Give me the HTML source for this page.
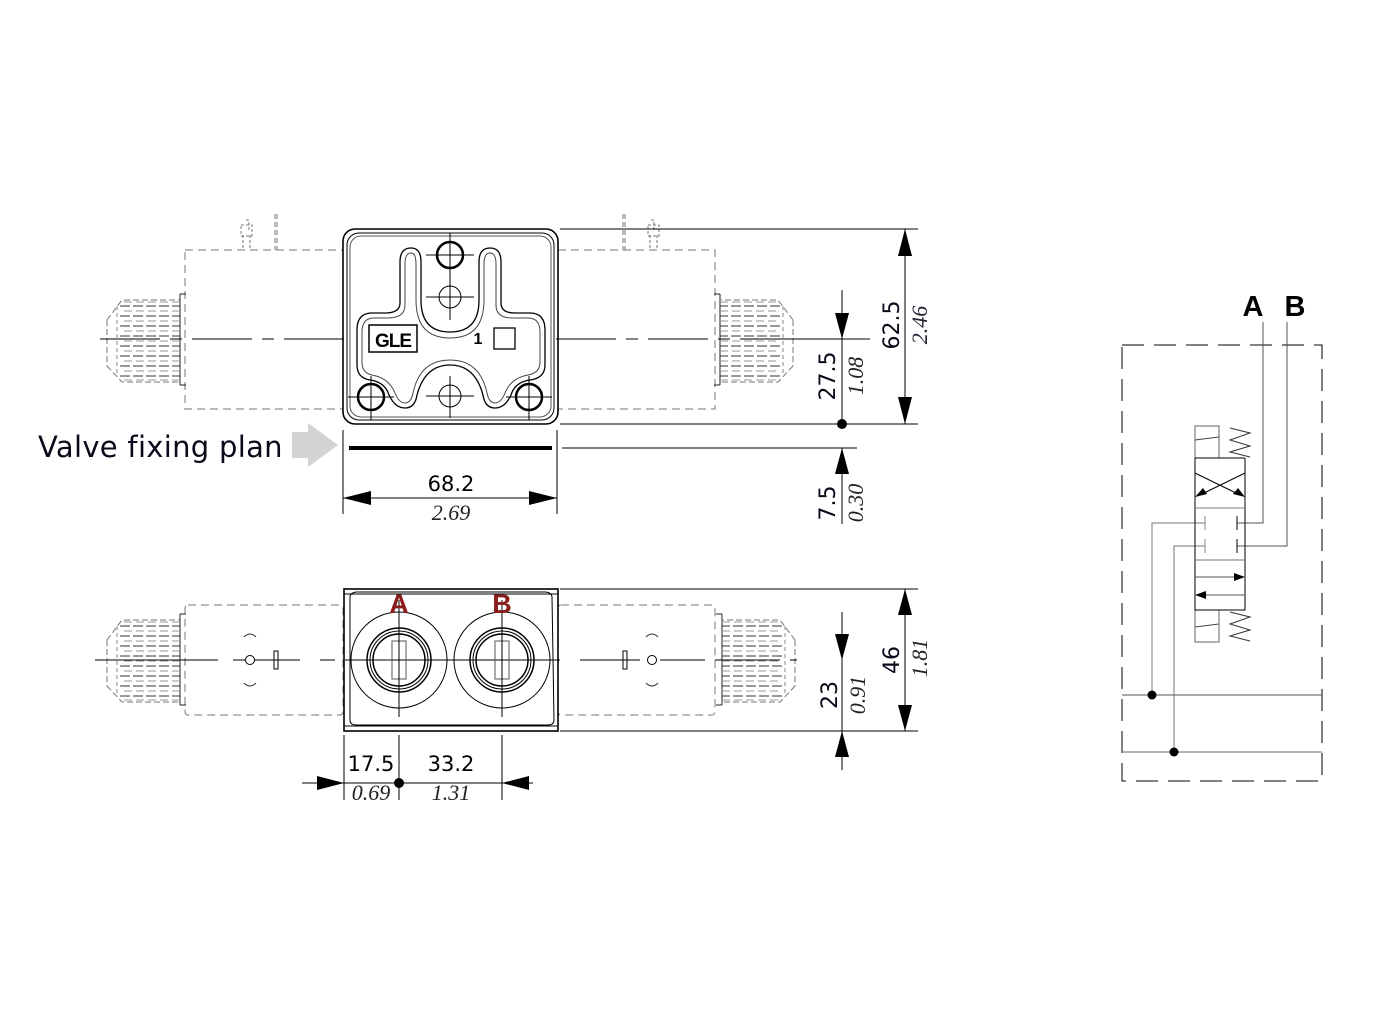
<!DOCTYPE html>
<html><head><meta charset="utf-8"><style>html,body{margin:0;padding:0;background:#fff}svg{display:block}</style></head>
<body>
<svg width="1376" height="1033" viewBox="0 0 1376 1033" xmlns="http://www.w3.org/2000/svg" font-family="'DejaVu Sans','Liberation Sans',sans-serif">
<defs>
<g id="knobL" fill="none" stroke-width="1">
  <path d="M180 294 V385 M180 294 H186 M180 385 H186" stroke="#222"/>
  <path d="M107 320 V366 M107 320 L122 300 H180 M107 366 L122 382 H180" stroke="#777" stroke-dasharray="6,3"/>
  <g stroke="#333" stroke-dasharray="10,3">
    <path d="M120 306 H180 M120 316 H180 M120 326 H180 M120 336 H180 M120 346 H180 M120 356 H180 M120 366 H180 M120 376 H180"/>
  </g>
  <g stroke="#999" stroke-dasharray="8,4">
    <path d="M124 302 H180 M124 311 H180 M124 321 H180 M124 331 H180 M124 341 H180 M124 351 H180 M124 361 H180 M124 371 H180 M124 380 H180"/>
  </g>
  <path d="M117 306 V376" stroke="#888" stroke-dasharray="4,3"/>
</g>
</defs>
<g fill="none" stroke="#000" stroke-width="1">
<!-- ===== TOP VIEW ===== -->
<rect x="185" y="250" width="158" height="159" stroke="#777" stroke-dasharray="8,5"/>
<rect x="558" y="250" width="157" height="159" stroke="#777" stroke-dasharray="8,5"/>
<use href="#knobL"/>
<use href="#knobL" transform="translate(900,0) scale(-1,1)"/>
<path d="M243 235 V250 M250 235 V250 M241 225 H252 V236 H241 Z M246 220 H249 V230" stroke="#777" stroke-dasharray="3,2"/>
<path d="M275 214 V250 M277 214 V250" stroke="#777" stroke-dasharray="5,3"/>
<path d="M650 235 V250 M657 235 V250 M648 225 H659 V236 H648 Z M651 220 H654 V230" stroke="#777" stroke-dasharray="3,2"/>
<path d="M623 214 V250 M625 214 V250" stroke="#777" stroke-dasharray="5,3"/>
<path d="M100 339 H345" stroke-dasharray="60,10,12,10"/>
<path d="M556 339 H870" stroke-dasharray="60,10,12,10"/>
<rect x="343" y="229" width="215" height="195" rx="12" stroke-width="1.6"/>
<rect x="347" y="233" width="207" height="187" rx="12"/>
<rect x="350" y="236" width="201" height="181" rx="11" stroke="#555"/>
<path d="M400 262 Q400 248 411 248 Q421 248 421 262 V300 Q421 332 450 332 Q479 332 479 300 V262 Q479 248 490 248 Q501 248 501 262 V303 Q501 313 515 313 H530 Q545 313 545 330 V365 Q545 378 530 380 Q515 382 511 395 Q505 408 495 408 Q485 408 483 395 Q475 365 450 365 Q425 365 417 395 Q415 408 405 408 Q395 408 389 395 Q385 382 370 380 Q357 378 357 365 V330 Q357 313 372 313 H385 Q400 313 400 303 Z" stroke-width="1.3"/>
<path d="M405 264 Q405 253 411 253 Q416 253 416 264 V300 Q416 338 450 338 Q484 338 484 300 V264 Q484 253 490 253 Q496 253 496 264 V305 Q496 318 512 318 H528 Q540 318 540 332 V362 Q540 373 528 375 Q511 378 505 393 Q501 403 495 403 Q489 403 487 393 Q480 360 450 360 Q420 360 413 393 Q411 403 405 403 Q399 403 395 393 Q389 378 372 375 Q362 373 362 362 V332 Q362 318 374 318 H388 Q405 318 405 305 Z" stroke="#444"/>
<circle cx="450" cy="255" r="13" stroke-width="2.5"/>
<circle cx="450" cy="297" r="11"/>
<circle cx="371" cy="397" r="13" stroke-width="2.5"/>
<circle cx="450" cy="396" r="11"/>
<circle cx="529" cy="397" r="13" stroke-width="2.5"/>
<path d="M426 255 H474 M450 233 V277 M426 297 H474 M450 276 V320 M348 397 H394 M371 376 V420 M426 396 H474 M450 376 V418 M506 397 H552 M529 376 V420"/>
<rect x="369" y="325" width="48" height="27" stroke-width="1.5"/>
<rect x="494" y="328" width="21" height="21" stroke-width="1.3"/>
<path d="M349 448 H552" stroke-width="4"/>
<path d="M560 229 H918 M560 424 H918 M562 448 H857 M790 339 H857"/>
<path d="M343 430 V514 M557 430 V514"/>
<path d="M343 498 H557"/>
<path d="M905 229 V424 M842 290 V424 M842 448 V524"/>
</g>
<g fill="#000">
<path d="M343 498 L371 491 V505 Z M557 498 L529 491 V505 Z"/>
<path d="M905 229 L898 256 H912 Z M905 424 L898 397 H912 Z"/>
<path d="M842 339 L835 313 H849 Z M842 448 L835 474 H849 Z"/>
<circle cx="842" cy="424" r="5"/>
</g>
<path d="M292 432 H308 V423 L338 445 L308 467 V458 H292 Z" fill="#d3d3d3"/>
<text x="38" y="457" font-size="29" fill="#0a0a1a" letter-spacing="0.3">Valve fixing plan</text>
<text x="451" y="491" font-size="21" text-anchor="middle">68.2</text>
<text x="451" y="520" font-size="22" text-anchor="middle" font-family="'Liberation Serif',serif" font-style="italic" fill="#222">2.69</text>
<g font-size="22">
<text transform="translate(899,325) rotate(-90)" text-anchor="middle" fill="#0a0a1a">62.5</text>
<text transform="translate(927,325) rotate(-90)" text-anchor="middle" font-family="'Liberation Serif',serif" font-style="italic" fill="#223">2.46</text>
<text transform="translate(835,376) rotate(-90)" text-anchor="middle" fill="#0a0a1a">27.5</text>
<text transform="translate(863,376) rotate(-90)" text-anchor="middle" font-family="'Liberation Serif',serif" font-style="italic" fill="#222">1.08</text>
<text transform="translate(835,503) rotate(-90)" text-anchor="middle" fill="#0a0a1a">7.5</text>
<text transform="translate(863,503) rotate(-90)" text-anchor="middle" font-family="'Liberation Serif',serif" font-style="italic" fill="#222">0.30</text>
<text transform="translate(899,660) rotate(-90)" text-anchor="middle" fill="#0a0a1a">46</text>
<text transform="translate(927,658) rotate(-90)" text-anchor="middle" font-family="'Liberation Serif',serif" font-style="italic" fill="#222">1.81</text>
<text transform="translate(837,695) rotate(-90)" text-anchor="middle" fill="#0a0a1a">23</text>
<text transform="translate(865,695) rotate(-90)" text-anchor="middle" font-family="'Liberation Serif',serif" font-style="italic" fill="#222">0.91</text>
</g>
<text x="393" y="347" font-size="19" font-weight="bold" text-anchor="middle" font-family="'Liberation Sans',sans-serif" letter-spacing="-1">GLE</text>
<text x="478" y="344" font-size="16" font-weight="bold" text-anchor="middle" font-family="'Liberation Sans',sans-serif">1</text>

<!-- ===== BOTTOM VIEW ===== -->
<g fill="none" stroke="#000" stroke-width="1">
<rect x="185" y="605" width="158" height="110" rx="3" stroke="#777" stroke-dasharray="8,5"/>
<rect x="558" y="605" width="157" height="110" rx="3" stroke="#777" stroke-dasharray="8,5"/>
<use href="#knobL" transform="translate(0,320)"/>
<use href="#knobL" transform="translate(902,320) scale(-1,1)"/>
<path d="M95 660 H218 M233 660 H245 M255 660 H300 M320 660 H335 M345 660 H560 M580 660 H640 M660 660 H705 M715 660 H780 M790 660 H797"/>
<circle cx="250" cy="660" r="4.5"/>
<rect x="274" y="651" width="4" height="18"/>
<path d="M244 637 Q250 631 256 637 M244 683 Q250 689 256 683" stroke="#333"/>
<circle cx="652" cy="660" r="4.5"/>
<rect x="623" y="651" width="4" height="18"/>
<path d="M646 637 Q652 631 658 637 M646 683 Q652 689 658 683" stroke="#333"/>
<rect x="344" y="589" width="214" height="142" stroke-width="1.6"/>
<path d="M350 597 Q350 593 356 592 H546 Q552 593 552 597 L554 720 Q554 725 548 725 H356 Q350 725 350 720 Z"/>
<path d="M344 594 H558 M344 726 H558"/>
<circle cx="399" cy="660" r="48"/>
<circle cx="399" cy="660" r="32" stroke-width="1.5"/>
<circle cx="399" cy="660" r="29"/>
<circle cx="399" cy="660" r="26" stroke-width="1.5"/>
<rect x="392" y="641" width="14" height="38" stroke="#555"/>
<circle cx="502" cy="660" r="48"/>
<circle cx="502" cy="660" r="32" stroke-width="1.5"/>
<circle cx="502" cy="660" r="29"/>
<circle cx="502" cy="660" r="26" stroke-width="1.5"/>
<rect x="495" y="641" width="14" height="38" stroke="#555"/>
<path d="M399 600 V717 M502 600 V717"/>
<path d="M560 589 H918 M560 731 H918"/>
<path d="M905 589 V731 M842 612 V770"/>
<path d="M344 735 V800 M399 735 V800 M502 735 V800"/>
<path d="M302 783 H533"/>
</g>
<g fill="#000">
<path d="M905 589 L898 615 H912 Z M905 731 L898 705 H912 Z"/>
<path d="M842 660 L835 634 H849 Z M842 731 L835 757 H849 Z"/>
<path d="M344 783 L317 776 V790 Z M502 783 L529 776 V790 Z"/>
<circle cx="399" cy="783" r="5"/>
</g>
<text x="399" y="613" font-size="27" font-weight="bold" fill="#8b1c1c" text-anchor="middle" font-family="'Liberation Sans',sans-serif">A</text>
<text x="502" y="613" font-size="27" font-weight="bold" fill="#8b1c1c" text-anchor="middle" font-family="'Liberation Sans',sans-serif">B</text>
<text x="371" y="771" font-size="21" text-anchor="middle">17.5</text>
<text x="451" y="771" font-size="21" text-anchor="middle">33.2</text>
<text x="371" y="800" font-size="22" text-anchor="middle" font-family="'Liberation Serif',serif" font-style="italic" fill="#222">0.69</text>
<text x="451" y="800" font-size="22" text-anchor="middle" font-family="'Liberation Serif',serif" font-style="italic" fill="#222">1.31</text>

<!-- ===== SCHEMATIC ===== -->
<g fill="none" stroke="#000" stroke-width="1">
<rect x="1122" y="345" width="200" height="436" stroke-dasharray="22,10"/>
<path d="M1263 322 V523 H1237 M1287 322 V546 H1237" stroke="#555"/>
<path d="M1237 516 V530 M1237 539 V553"/>
<path d="M1205 523 H1152 V695 M1205 546 H1174 V752" stroke="#777"/>
<path d="M1205 516 V530 M1205 539 V553" stroke="#888"/>
<path d="M1122 695 H1322" stroke="#555"/>
<path d="M1122 752 H1322" stroke="#999" stroke-width="1.5"/>
<rect x="1195" y="426" width="24" height="32" stroke="#666"/>
<path d="M1195 440 L1219 437 M1195 627 L1219 624" stroke="#444"/>
<rect x="1195" y="610" width="24" height="32" stroke="#666"/>
<path d="M1195 458 H1245 M1245 458 V610 H1195 V458" />
<path d="M1195 508 H1245 M1195 560 H1245" stroke="#777"/>
<path d="M1195 473 L1240 495 M1245 473 L1200 495"/>
<path d="M1195 577 H1240 M1245 595 H1200" stroke="#555"/>
<path d="M1230 428 L1250 433 L1230 440 L1250 446 L1230 452 L1250 457 M1230 612 L1250 617 L1230 624 L1250 630 L1230 636 L1250 641" stroke="#333"/>
</g>
<g fill="#000">
<path d="M1195 497 L1203 488 L1207 494 Z M1245 497 L1233 494 L1238 488 Z"/>
<path d="M1245 577 L1234 573 V581 Z M1195 595 L1206 591 V599 Z"/>
<circle cx="1152" cy="695" r="4.5"/>
<circle cx="1174" cy="752" r="4.5"/>
</g>
<text x="1253" y="316" font-size="29" font-weight="bold" text-anchor="middle" font-family="'Liberation Sans',sans-serif">A</text>
<text x="1295" y="316" font-size="29" font-weight="bold" text-anchor="middle" font-family="'Liberation Sans',sans-serif">B</text>
</svg>
</body></html>
